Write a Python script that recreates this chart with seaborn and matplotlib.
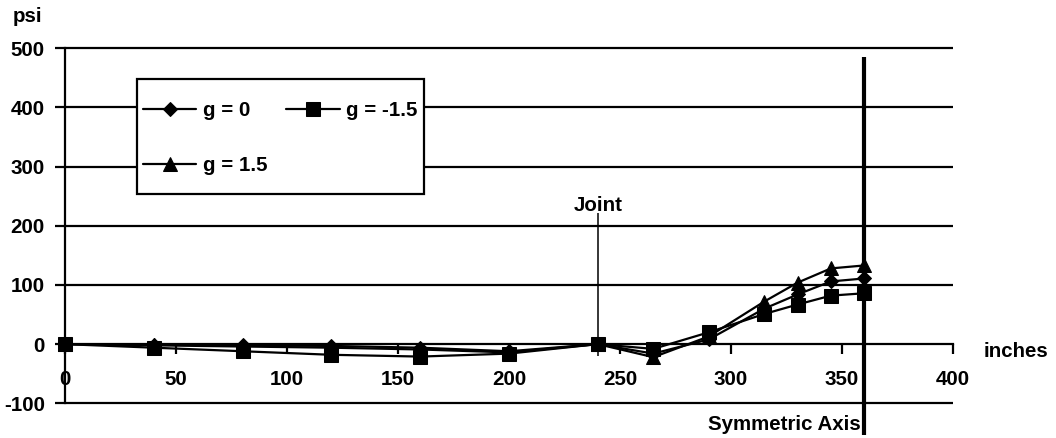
import matplotlib
matplotlib.use("Agg")
import matplotlib.pyplot as plt
from matplotlib.patches import Rectangle
import pandas as pd
import seaborn as sns

# Position along the slab (inches) and stress (psi) for three temperature gradients
inches = [0, 40, 80, 120, 160, 200, 240, 265, 290, 315, 330, 345, 360]
g_zero = [0, -1, -2, -3, -6, -12, 0, -16, 8, 60, 84, 106, 111]
g_minus = [0, -6, -12, -18, -21, -16, 0, -8, 20, 51, 67, 82, 86]
g_plus = [0, -2, -4, -6, -9, -14, 0, -22, 13, 72, 104, 128, 133]

series_labels = ["g = 0", "g = 1.5", "g = -1.5"]
y_ticks = [-100, 0, 100, 200, 300, 400, 500]
x_ticks = [0, 50, 100, 150, 200, 250, 300, 350, 400]
joint_x = 240
symmetric_x = 360

df = pd.concat([
    pd.DataFrame({"inches": inches, "psi": g_zero, "series": "g = 0"}),
    pd.DataFrame({"inches": inches, "psi": g_plus, "series": "g = 1.5"}),
    pd.DataFrame({"inches": inches, "psi": g_minus, "series": "g = -1.5"}),
])

sns.set_theme(style="ticks")
plt.rcParams["font.family"] = ["Liberation Sans", "DejaVu Sans"]
plt.rcParams["font.weight"] = "bold"
for key in ["text.color", "axes.labelcolor", "xtick.color", "ytick.color",
            "axes.edgecolor"]:
    plt.rcParams[key] = "black"
FS = 14.8

fig = plt.figure(figsize=(10.56, 4.38), dpi=100)
ax = fig.add_axes([0.06155, 0.0792, 0.8409, 0.8105])
ax.set_xlim(0, 400)
ax.set_ylim(-100, 500)

# horizontal grid lines (including the -100 and 500 edges)
grid_levels = [v for v in y_ticks if v != 0]
ax.hlines(grid_levels, 0, 400, color="black", lw=1.6, clip_on=False, zorder=1)

styles = {"g = 0": ("D", 7.5), "g = 1.5": ("^", 10.5), "g = -1.5": ("s", 10)}
handles = {}
for name in ["g = 0", "g = 1.5", "g = -1.5"]:
    sub = df[df["series"] == name]
    mk, ms = styles[name]
    sns.lineplot(data=sub, x="inches", y="psi", ax=ax, color="black", lw=1.6,
                 marker=mk, markersize=ms, markeredgecolor="black",
                 markerfacecolor="black", label=name, zorder=3,
                 clip_on=False)
    handles[name] = ax.get_lines()[-1]

# joint marker and symmetry axis
ax.vlines(joint_x, -20, 221, color="black", lw=1.1, zorder=2)
ax.text(joint_x, 225, "Joint", ha="center", va="baseline", fontsize=FS,
        fontweight="bold")
ax.vlines(symmetric_x, -153, 485, color="black", lw=3, clip_on=False, zorder=4)
ax.text(symmetric_x - 1.5, -135, "Symmetric Axis", ha="right", va="center",
        fontsize=FS, fontweight="bold", clip_on=False)

# axes styling
for side in ["top", "right"]:
    ax.spines[side].set_visible(False)
ax.spines["bottom"].set_position(("data", 0))
ax.spines["bottom"].set_linewidth(1.6)
ax.spines["left"].set_linewidth(1.6)

ax.set_xticks(x_ticks)
ax.set_yticks(y_ticks)
ax.set_xticklabels([str(v) for v in x_ticks], fontsize=FS, fontweight="bold")
ax.set_yticklabels([str(v) for v in y_ticks], fontsize=FS, fontweight="bold")
ax.tick_params(axis="x", direction="out", length=7, width=1.6, pad=11.5)
ax.tick_params(axis="y", direction="out", length=7, width=1.6, pad=7.5)
ax.set_xlabel("")
ax.set_ylabel("")

ax.text(414, -12, "inches", ha="left", va="center", fontsize=FS,
        fontweight="bold", clip_on=False)
fig.text(13 / 1056, 1 - 17 / 438, "psi", ha="left", va="center",
         fontsize=FS, fontweight="bold")

# legend box drawn as its own rectangle, entries placed inside it
box_x0, box_x1 = 0.081, 0.4043
box_y0, box_y1 = 0.5896, 0.9135
ax.add_patch(Rectangle((box_x0, box_y0), box_x1 - box_x0, box_y1 - box_y0,
                       transform=ax.transAxes, facecolor="white",
                       edgecolor="black", lw=1.6, zorder=5, clip_on=False))
leg = ax.legend([handles[n] for n in series_labels], series_labels,
                loc="upper left", bbox_to_anchor=(0.0878, 0.852),
                borderaxespad=0, ncol=2, frameon=False,
                handlelength=2.6, handletextpad=0.33, labelspacing=1.75,
                columnspacing=0.9, borderpad=0,
                prop={"weight": "bold", "size": FS})
leg.set_zorder(6)

fig.savefig("out.png", dpi=100, facecolor="white")
